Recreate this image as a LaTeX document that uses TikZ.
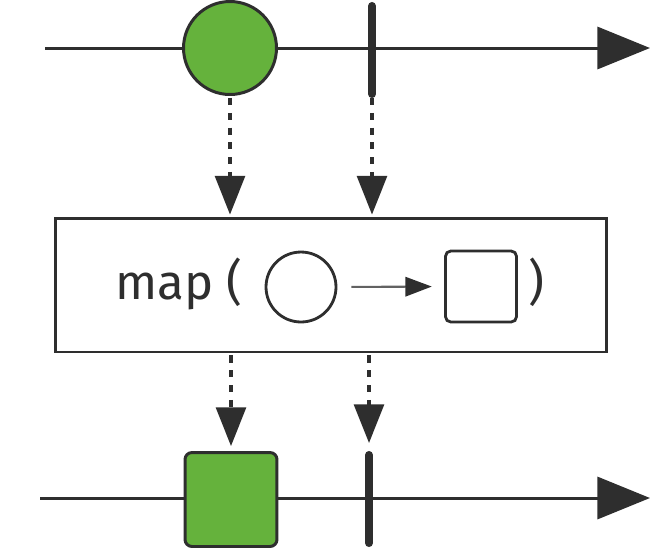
\documentclass[tikz,border=0pt]{standalone}
\usepackage{fontspec}
\setmainfont{Fira Sans}
\usetikzlibrary{arrows.meta}
\usetikzlibrary{calc}
\definecolor{ink}{HTML}{2E2E2E}
\definecolor{marble}{RGB}{101,178,60}
\tikzset{
  timeline/.style={draw=ink, line width=1.7pt, -{Triangle[length=30pt,width=24pt]}},
  tick/.style={draw=ink, line width=4.6pt, line cap=round},
  flow/.style={draw=ink, line width=1.9pt, dash pattern=on 4pt off 4.4pt, -{Triangle[length=22pt,width=17pt]}},
  item/.style={draw=ink, fill=marble, line width=1.7pt},
}
\begin{document}
\begin{tikzpicture}[x=0.02cm,y=-0.02cm]
\useasboundingbox (0,0) rectangle (670,556);
% upper timeline
\coordinate (s1) at (45,48);
\coordinate (e1) at (650,48);
\draw[timeline] (s1) -- (e1);
\node[item, circle, minimum size=1.86cm, inner sep=0pt] (c1) at (230,48) {};
\coordinate (t1) at (372,6);
\coordinate (t2) at (372,94);
\draw[tick] (t1) -- (t2);
% the operator box
\node[draw=ink, line width=1.7pt, minimum width=11.04cm, minimum height=2.68cm] (op) at (331,285) {};
\node[anchor=base east, text=ink, inner sep=0pt, font=\fontsize{28}{32}\selectfont] (mapl) at (243,299) {map (};
\node[anchor=base west, text=ink, inner sep=0pt, font=\fontsize{28}{32}\selectfont] (mapr) at (528,299) {)};
\node[draw=ink, circle, line width=1.6pt, minimum size=1.4cm, inner sep=0pt] (m1) at (301,287) {};
\node[draw=ink, rounded corners=3pt, line width=1.6pt, minimum size=1.42cm, inner sep=0pt] (m2) at (481,286.5) {};
\draw[draw=ink!75, line width=1.2pt, -{Triangle[length=15pt,width=11pt,color=ink]}, shorten <=8pt, shorten >=7pt] (m1.east) -- (m2.west);
% dashed arrows into the box
\draw[flow] ($(c1.south)+(0,2)$) -- ($(c1.south |- op.north)+(0,-2)$);
\draw[flow] ($(t2)+(0,4)$) -- ($(t2 |- op.north)+(0,-2)$);
% lower timeline
\coordinate (s2) at (40,498);
\coordinate (e2) at (650,498);
\draw[timeline] (s2) -- (e2);
\node[item, rounded corners=4pt, minimum width=1.84cm, minimum height=1.88cm, inner sep=0pt] (sq) at (231,499.5) {};
\coordinate (t3) at (369,455);
\coordinate (t4) at (369,543);
\draw[tick] (t3) -- (t4);
% dashed arrows out of the box
\draw[flow] ($(sq.north |- op.south)+(0,2)$) -- ($(sq.north)+(0,-5)$);
\draw[flow] ($(t3 |- op.south)+(0,2)$) -- ($(t3)+(0,-12)$);
\end{tikzpicture}
\end{document}
